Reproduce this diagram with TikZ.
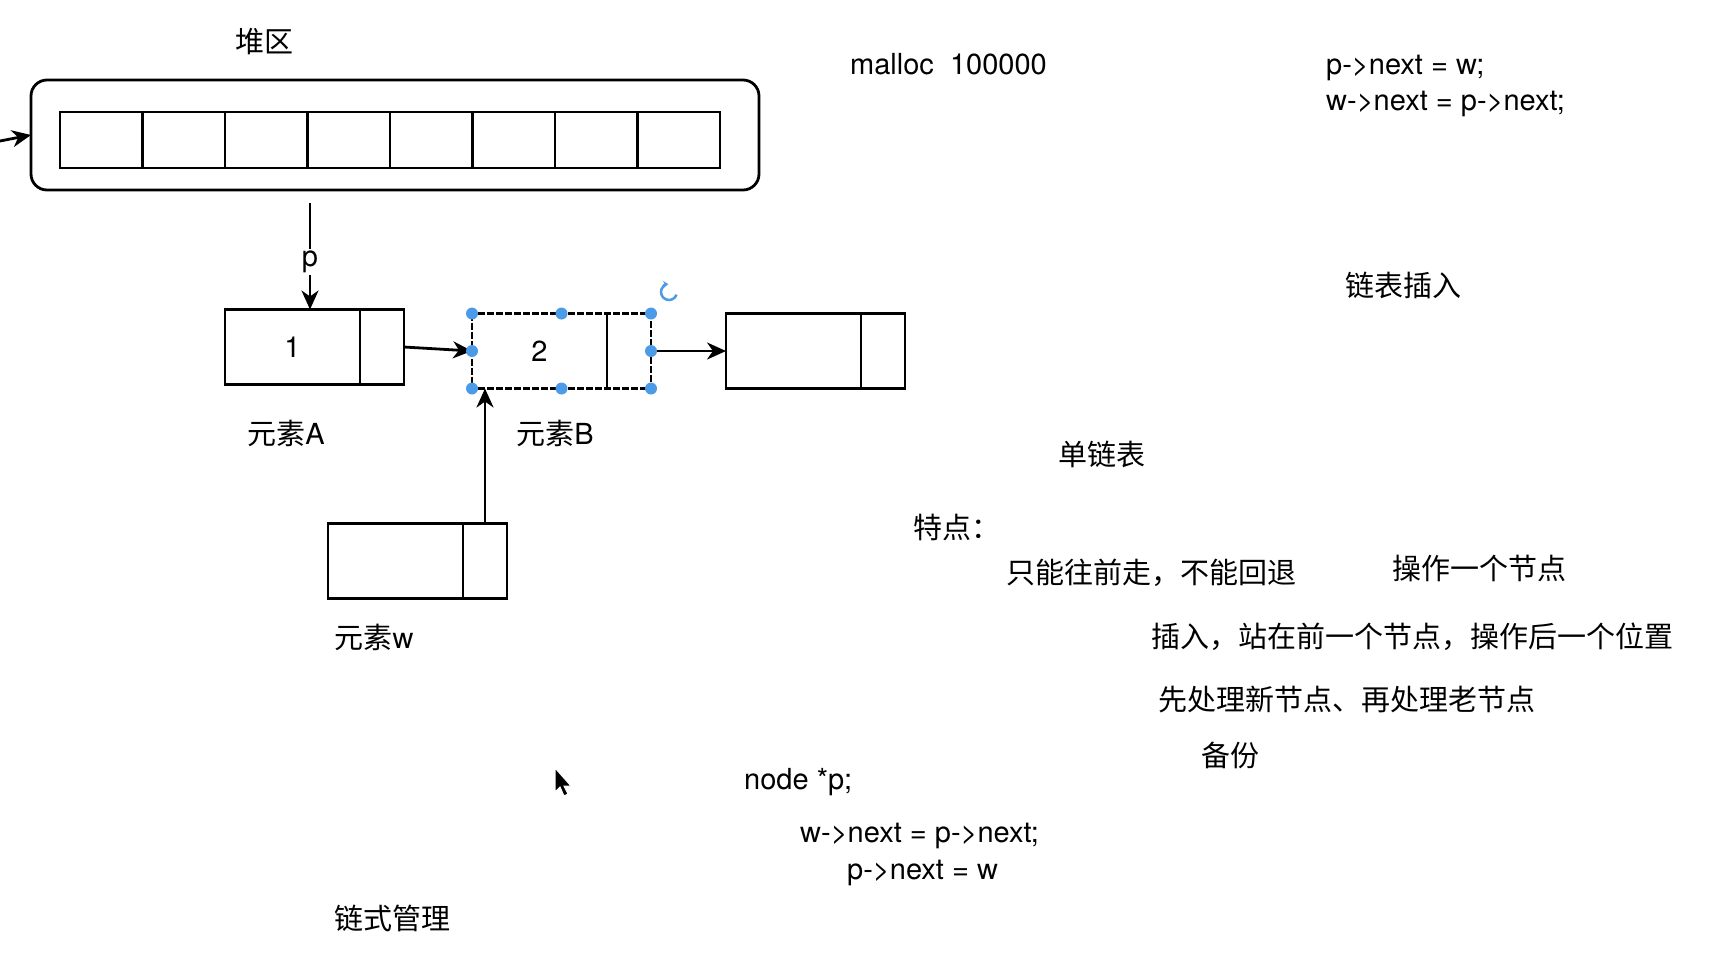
\documentclass[tikz,border=0pt]{standalone}
\usepackage{fontspec}
\setmainfont{TeX Gyre Heros}
\newfontfamily\cjk{Noto Sans CJK SC}
\usetikzlibrary{arrows.meta,positioning,calc}
\definecolor{handleblue}{HTML}{4C9BE8}
\tikzset{
  cell/.style={draw,line width=2.8pt,minimum width=82.5pt,minimum height=56pt,inner sep=0pt,outer sep=0pt},
  datapart/.style={draw,line width=2.8pt,minimum width=135pt,minimum height=75pt,inner sep=0pt,outer sep=0pt},
  ptrpart/.style={draw,line width=2.8pt,minimum width=44pt,minimum height=75pt,inner sep=0pt,outer sep=0pt},
  txt/.style={inner sep=0pt,anchor=west},
  ptrarrow/.style={line width=2.8pt,-{Stealth[length=19pt,width=17pt,inset=6pt]}},
  handle/.style={circle,fill=handleblue,inner sep=0pt,minimum size=12pt}
}

\begin{document}
\begin{tikzpicture}[x=1pt,y=-1pt,font=\fontsize{29}{34}\selectfont]
\useasboundingbox (0,0) rectangle (1724,954);
% heap
\node(heaplabel) at (264,42){\cjk 堆区};
\node[draw,line width=2.8pt,rounded corners=16pt,minimum width=728pt,minimum height=110pt,outer sep=0pt](heap) at (395,135){};
\foreach \i in {1,...,8}
  \node[cell](c\i) at ({60+82.5*(\i-0.5)},140){};
\coordinate (heapin) at (0,141);
\draw[ptrarrow](heapin) -- (heap.west);
% list nodes
\node[datapart](Adata) at (292.5,347){1};
\node[ptrpart,right=0pt of Adata](Aptr){};
\node[datapart,draw=none](Bdata) at (539.5,351){2};
\node[ptrpart,draw=none,right=0pt of Bdata](Bptr){};
\draw[line width=2.8pt,dash pattern=on 7pt off 2pt](Bdata.north west) rectangle (Bptr.south east);
\draw[line width=2.8pt](Bptr.north west) -- (Bptr.south west);
\node[datapart](Cdata) at (793.5,351){};
\node[ptrpart,right=0pt of Cdata](Cptr){};
\node[datapart](wdata) at (395.5,561){};
\node[ptrpart,right=0pt of wdata](wptr){};
\node(Alabel) at (286,433){{\cjk 元素}A};
\node(Blabel) at (555,433){{\cjk 元素}B};
\node(wlabel) at (374,637){{\cjk 元素}w};
% pointers
\coordinate (pstart) at (310,203);
\node[inner sep=2pt](plabel) at (310,262){p};
\draw[line width=2.8pt](pstart) -- (plabel);
\draw[ptrarrow](plabel) -- (plabel |- Adata.north);
\draw[ptrarrow](Aptr.east) -- (Bdata.west);
\draw[ptrarrow](Bptr.east) -- (Cdata.west);
\draw[ptrarrow](wptr.north) -- (wptr.north |- Bdata.south);
% selection handles
\foreach \a in {Bdata.north west,Bdata.west,Bdata.south west,Bptr.north east,Bptr.east,Bptr.south east}
  \node[handle] at (\a){};
\node[handle] at ($(Bdata.north west)!0.5!(Bptr.north east)$){};
\node[handle] at ($(Bdata.south west)!0.5!(Bptr.south east)$){};
\node[inner sep=0pt](rot) at (669,292){};
\draw[handleblue,line width=2.5pt,-{Stealth[length=5pt,width=7pt]}](rot.center) ++(-20:8pt) arc[start angle=-20,end angle=-265,radius=8pt];
% notes
\node[txt](malloc) at (850,64){malloc\ \ 100000};
\node[txt](code1) at (1326,68){p->next = w;};
\node[txt,below=10pt of code1.south west,anchor=north west](code2){w->next = p->next;};
\node(insert) at (1403,285){\cjk 链表插入};
\node(single) at (1102,454){\cjk 单链表};
\node[txt](feat) at (913,527){\cjk 特点：};
\node[txt](feat1) at (1006,573){\cjk 只能往前走，不能回退};
\node[txt](feat2) at (1392,568){\cjk 操作一个节点};
\node[txt](feat3) at (1151,637){\cjk 插入，站在前一个节点，操作后一个位置};
\node[txt](feat4) at (1158,699){\cjk 先处理新节点、再处理老节点};
\node(backup) at (1230,755){\cjk 备份};
\node[txt](decl) at (744,782){node *p;};
\node[txt](step1) at (800,836){w->next = p->next;};
\node[txt](step2) at (847,873){p->next = w};
\node(chain) at (392,918){\cjk 链式管理};
% cursor
\fill[black,draw=white,line width=1pt](555,768) -- (555,792) -- (560,787) -- (564,796) -- (568,794) -- (564,786) -- (571,786) -- cycle;
\end{tikzpicture}
\end{document}
